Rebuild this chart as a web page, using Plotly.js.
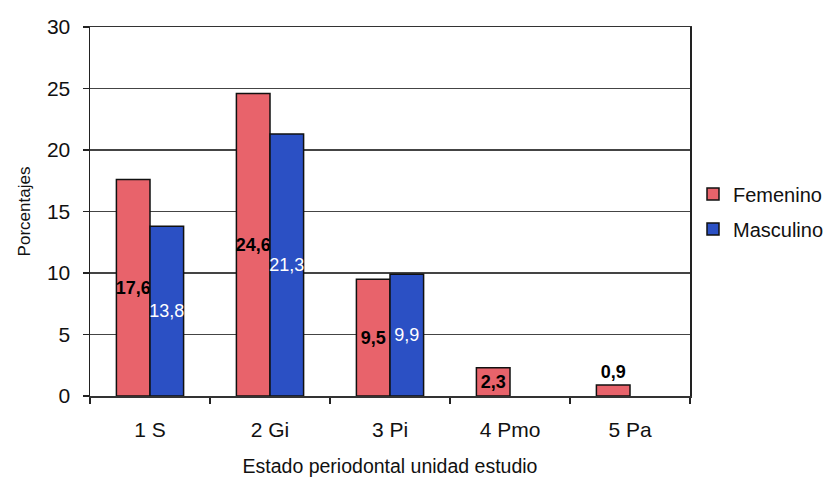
<!DOCTYPE html>
<html>
<head>
<meta charset="utf-8">
<script src="https://cdn.plot.ly/plotly-3.0.1.min.js"></script>
<style>html,body{margin:0;padding:0;background:#fff;}#chart{width:832px;height:481px;}</style>
</head>
<body>
<div id="chart"></div>
<script>
var categories = ['1 S', '2 Gi', '3 Pi', '4 Pmo', '5 Pa'];
var femenino = [17.6, 24.6, 9.5, 2.3, 0.9];
var masculino = [13.8, 21.3, 9.9, null, null];
var yTicks = [0, 5, 10, 15, 20, 25, 30];

var font = 'Liberation Sans, Arial, sans-serif';

var traces = [
  {
    type: 'bar', name: 'Femenino', x: categories, y: femenino,
    legendgroup: 'f',
    marker: {color: '#E8636B', line: {color: '#111', width: 1.5}},
    texttemplate: '<b>%{y:.1f}</b>',
    textposition: ['inside', 'inside', 'inside', 'inside', 'outside'],
    insidetextanchor: 'middle',
    textangle: 0,
    constraintext: 'none',
    textfont: {family: font, size: 18, color: '#000'},
    outsidetextfont: {family: font, size: 18, color: '#000'},
    cliponaxis: false,
    hoverinfo: 'skip'
  },
  {
    type: 'bar', name: 'Masculino', x: categories, y: masculino,
    legendgroup: 'm',
    marker: {color: '#2B50C4', line: {color: '#111', width: 1.5}},
    texttemplate: '%{y:.1f}',
    textposition: 'inside',
    insidetextanchor: 'middle',
    textangle: 0,
    constraintext: 'none',
    textfont: {family: font, size: 18, color: '#fff'},
    hoverinfo: 'skip'
  }
];

var layout = {
  width: 832, height: 481,
  margin: {l: 90, r: 142, t: 27, b: 85, autoexpand: false},
  paper_bgcolor: '#fff', plot_bgcolor: '#fff',
  separators: ', ',
  barmode: 'group',
  bargap: 0.44,
  bargroupgap: 0,
  font: {family: font, size: 16, color: '#111'},
  showlegend: true,
  legend: {
    x: 1.005, xanchor: 'left', y: 0.5, yanchor: 'middle',
    font: {family: font, size: 20, color: '#111'},
    bgcolor: 'rgba(0,0,0,0)', tracegroupgap: 6,
    itemwidth: 30
  },
  xaxis: {
    type: 'category',
    tickson: 'boundaries',
    ticks: 'outside', ticklen: 6, tickcolor: '#222', tickwidth: 1.5,
    ticklabelstandoff: 14,
    showline: true, linecolor: '#333', linewidth: 1.5, mirror: true,
    showgrid: false,
    tickfont: {family: font, size: 21, color: '#111'},
    title: {text: 'Estado periodontal unidad estudio', font: {family: font, size: 19.5, color: '#111'}, standoff: 19}
  },
  yaxis: {
    range: [0, 30],
    tickvals: yTicks,
    ticktext: yTicks.map(String),
    ticks: 'outside', ticklen: 6, tickcolor: '#222', tickwidth: 1.5,
    ticklabelstandoff: 8,
    showline: true, linecolor: '#222', linewidth: 1.5, mirror: true,
    showgrid: true, gridcolor: '#444', gridwidth: 1.3,
    zeroline: false,
    tickfont: {family: font, size: 21, color: '#111'},
    title: {text: 'Porcentajes', font: {family: font, size: 17, color: '#111'}, standoff: 12}
  }
};

Plotly.newPlot('chart', traces, layout, {displayModeBar: false, staticPlot: true});
</script>
</body>
</html>
